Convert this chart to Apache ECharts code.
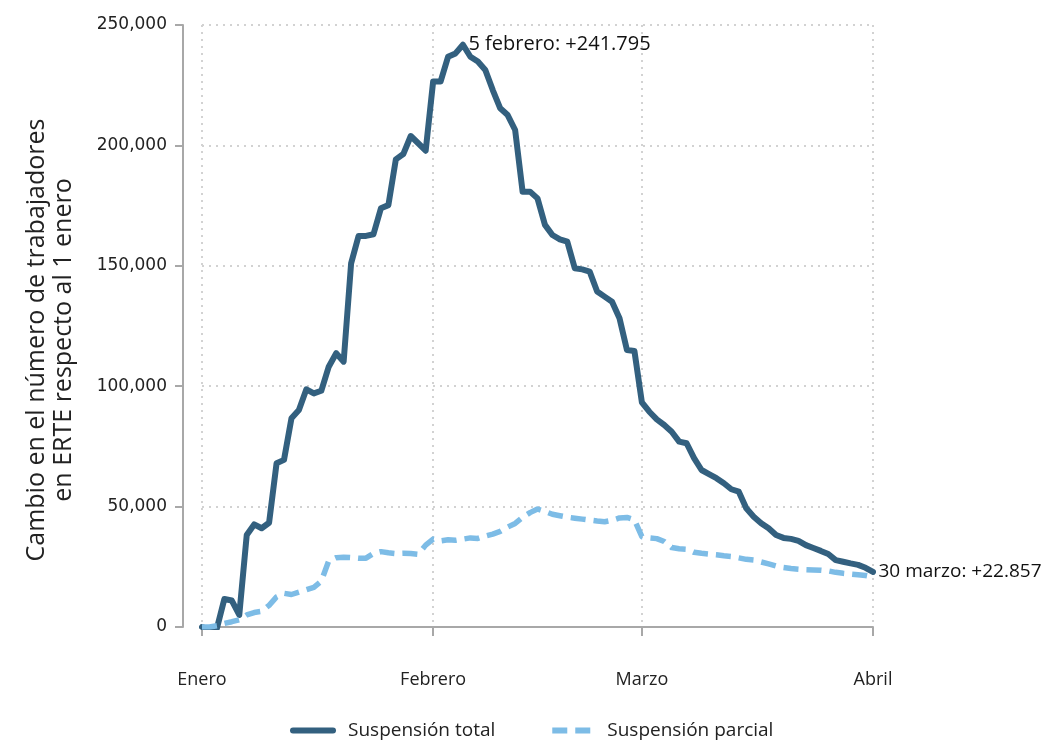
<!DOCTYPE html>
<html>
<head>
<meta charset="utf-8">
<script src="https://cdn.jsdelivr.net/npm/echarts@6/dist/echarts.min.js"></script>
<style>
html,body{margin:0;padding:0;background:#fff;}
#chart{width:1048px;height:744px;}
</style>
</head>
<body>
<div id="chart"></div>
<script>
// Daily series, 1 Jan 2021 (index 0) to 1 Apr 2021 (index 90)
const startDate = '2021-01-01';
const dayCount = 91;
const monthTickLabels = { '2021-01-01': 'Enero', '2021-02-01': 'Febrero', '2021-03-01': 'Marzo', '2021-04-01': 'Abril' };
const yTicks = [0, 50000, 100000, 150000, 200000, 250000];

const totalValues = [
  0, -1000, -500, 11600, 11000, 5000, 38200, 42600, 41000, 43300,
  68000, 69400, 86700, 90100, 98700, 97000, 98100, 108100, 113700, 110200,
  151000, 162400, 162400, 163100, 173900, 175200, 194200, 196400, 203900, 200900,
  197800, 226500, 226500, 236800, 238200, 241795, 236800, 234800, 231300, 223000,
  215400, 212600, 206400, 180800, 180800, 178000, 167000, 162800, 161000, 160000,
  149000, 148500, 147600, 139300, 137200, 135100, 128200, 115000, 114600, 93300,
  89400, 86200, 83900, 81100, 77000, 76300, 70100, 65200, 63500, 61800,
  59700, 57200, 56200, 49300, 45800, 43100, 41000, 38200, 37000, 36600,
  35800, 34000, 32800, 31600, 30300, 27800, 27100, 26400, 25800, 24600,
  22857
];
const partialValues = [
  0, 0, 500, 1500, 2200, 3000, 5000, 6000, 6500, 9000,
  12500, 14000, 13500, 14500, 15500, 16500, 19000, 27500, 28800, 29000,
  28800, 28500, 28600, 30500, 31300, 30800, 30500, 30600, 30500, 30200,
  34000, 36500, 35800, 36200, 36000, 36500, 37000, 36800, 37800, 38600,
  39700, 41500, 43000, 45500, 47500, 49000, 48000, 46800, 46200, 45600,
  45200, 44800, 44400, 44000, 43700, 44300, 45300, 45500, 44500, 37500,
  37000, 36700, 35500, 33000, 32500, 32300, 31000, 30600, 30300, 30000,
  29600, 29300, 28700, 28100, 27800, 27000, 26200, 25300, 24700, 24300,
  24000, 23800, 23700, 23600, 23300, 22700, 22300, 22000, 21700, 21400,
  20800
];
const seriesNames = ['Suspensión total', 'Suspensión parcial'];
const peakIndex = 35;
const peakLabel = '5 febrero: +241.795';
const endIndex = 90;
const endLabel = '30 marzo: +22.857';
const yAxisTitle = 'Cambio en el número de trabajadores\nen ERTE respecto al 1 enero';

const colorTotal = '#33607f';
const colorPartial = '#7dbce6';

// categories: one per calendar day
const categories = [];
(function () {
  const d0 = new Date(startDate + 'T00:00:00Z');
  for (let i = 0; i < dayCount; i++) {
    const d = new Date(d0.getTime() + i * 86400000);
    categories.push(d.toISOString().slice(0, 10));
  }
})();

const isMonthStart = (idx) => Object.prototype.hasOwnProperty.call(monthTickLabels, categories[idx]);

const annot = (idx, text, size) => ({
  coord: [categories[idx], totalValues[idx]],
  value: totalValues[idx],
  label: { show: true, position: 'right', distance: 5, formatter: text, color: '#111', fontFamily: 'Open Sans', fontSize: size }
});

const chart = echarts.init(document.getElementById('chart'), null, { renderer: 'canvas' });
chart.setOption({
  animation: false,
  backgroundColor: '#fff',
  grid: { left: 202, right: 175, top: 25, bottom: 117 },
  legend: {
    left: 285, top: 716,
    itemWidth: 40, itemHeight: 14, itemGap: 54,
    itemStyle: { opacity: 0 },
    textStyle: { fontFamily: 'Open Sans', fontSize: 19, color: '#222', padding: [0, 0, 0, 10] },
    data: [
      { name: seriesNames[0], lineStyle: { color: colorTotal, width: 6, type: 'solid' } },
      { name: seriesNames[1], lineStyle: { color: colorPartial, width: 6, type: [15, 8] } }
    ]
  },
  xAxis: {
    type: 'category',
    data: categories,
    boundaryGap: false,
    offset: 20,
    axisLine: { lineStyle: { color: '#a8a8a8', width: 2 } },
    axisTick: { show: true, interval: isMonthStart, length: 9, lineStyle: { color: '#a8a8a8', width: 2 } },
    axisLabel: {
      interval: isMonthStart, margin: 24,
      fontFamily: 'Open Sans', fontSize: 18, color: '#222',
      formatter: v => monthTickLabels[v] || ''
    },
    splitLine: { show: true, interval: isMonthStart, lineStyle: { color: '#d2d2d2', type: [2, 5], width: 2 } }
  },
  yAxis: {
    type: 'value',
    min: yTicks[0], max: yTicks[yTicks.length - 1], interval: yTicks[1] - yTicks[0],
    offset: 19,
    name: yAxisTitle,
    nameLocation: 'middle',
    nameGap: 106,
    nameTextStyle: { fontFamily: 'Open Sans', fontSize: 25, color: '#222', lineHeight: 27, padding: [0, 28, 0, 0] },
    axisLine: { show: true, lineStyle: { color: '#a8a8a8', width: 2 } },
    axisTick: { show: true, length: 8, lineStyle: { color: '#a8a8a8', width: 2 } },
    axisLabel: { margin: 16, fontFamily: 'DejaVu Sans', fontSize: 17, color: '#222' },
    splitLine: { show: true, lineStyle: { color: '#d2d2d2', type: [2, 5], width: 2 } }
  },
  series: [
    {
      name: seriesNames[0], type: 'line', data: totalValues, symbol: 'none',
      color: colorTotal,
      lineStyle: { color: colorTotal, width: 6, join: 'round', cap: 'round' },
      markPoint: {
        symbol: 'circle', symbolSize: 1,
        itemStyle: { color: 'rgba(0,0,0,0)' },
        data: [annot(peakIndex, peakLabel, 20), annot(endIndex, endLabel, 19)]
      },
      z: 2
    },
    {
      name: seriesNames[1], type: 'line', data: partialValues, symbol: 'none',
      color: colorPartial,
      lineStyle: { color: colorPartial, width: 5.5, type: [15, 8], join: 'round' },
      z: 3
    }
  ]
});
</script>
</body>
</html>
